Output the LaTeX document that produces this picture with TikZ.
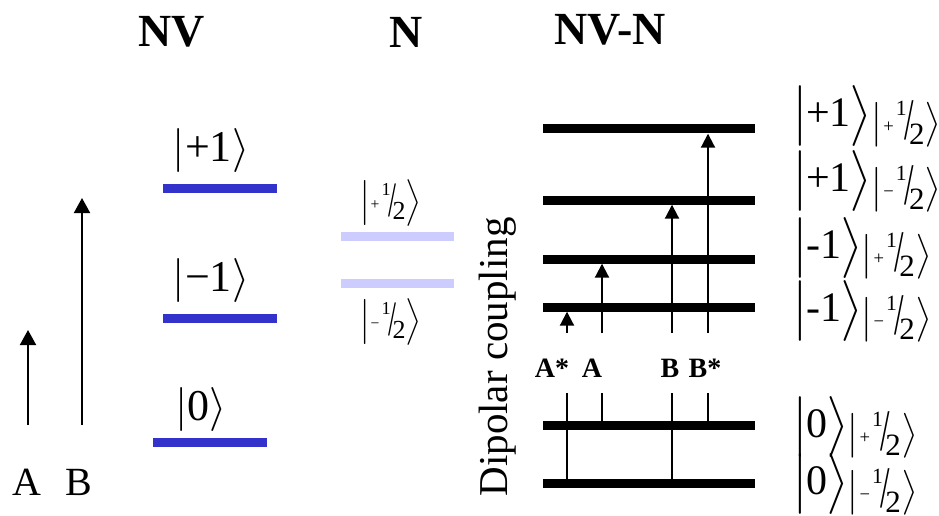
\documentclass[tikz,border=0pt]{standalone}
\usepackage{fontspec}
\usepackage{unicode-math}
\setmainfont{Liberation Serif}
\setmathfont{Latin Modern Math}
\usepackage{graphicx}
\usetikzlibrary{arrows.meta}
\definecolor{nvblue}{RGB}{51,51,204}
\definecolor{nlav}{RGB}{204,204,255}

% slanted one half and kets of a given height
\newcommand{\hf}{\raisebox{.55em}{\scalebox{.7}{1}}\kern-.08em\raisebox{-.25em}{\scalebox{1.1}[1.9]{/}}\kern-.15em\raisebox{-.4em}{2}}
\newcommand{\kt}[2]{$\left|\vcenter to #1{}\right.$\kern-1pt#2\kern-1pt$\left.\vcenter to #1{}\right\rangle$}
\newcommand{\hk}[2]{$\left|\vcenter to #1{}\right.$\kern1pt\scalebox{.6}{#2}\kern2pt\hf$\left.\vcenter to #1{}\right\rangle$}

\begin{document}
\begin{tikzpicture}[x=1pt, y=-1pt,
  lvl/.style={inner sep=0pt, minimum height=9pt},
  nvlvl/.style={lvl, fill=nvblue, minimum width=114pt},
  nlvl/.style={lvl, fill=nlav, minimum width=113pt},
  pairlvl/.style={lvl, fill=black, minimum width=212pt},
  ttl/.style={font=\fontsize{46}{50}\selectfont\bfseries},
  kt/.style={font=\fontsize{44}{48}\selectfont, inner sep=0pt},
  nkt/.style={font=\fontsize{26}{30}\selectfont, inner sep=0pt},
  pkt/.style={anchor=west, inner sep=0pt},
  trans/.style={font=\fontsize{28}{32}\selectfont\bfseries, inner sep=0pt},
  uparr/.style={line width=2pt, -{Triangle[length=14pt,width=14pt]}},
  bigarr/.style={line width=2pt, -{Triangle[length=15pt,width=16pt]}}]
\useasboundingbox (0,0) rectangle (939,516);

% titles
\node[ttl] (tnv) at (172,32) {NV};
\node[ttl] (tn) at (406,32) {N};
\node[ttl] (tnvn) at (610,30) {NV-N};

% NV levels
\node[nvlvl] (nvp) at (220,188) {};
\node[nvlvl] (nvm) at (220,318) {};
\node[nvlvl] (nvz) at (210,442) {};
\node[kt] (knvp) at (211,150) {\kt{46pt}{+1}};
\node[kt] (knvm) at (211,280) {\kt{46pt}{−1}};
\node[kt] (knvz) at (201,409) {\kt{46pt}{0}};

% N levels
\node[nlvl] (np) at (397,236) {};
\node[nlvl] (nm) at (397,283) {};
\node[nkt] (knp) at (392,203) {\hk{44pt}{+}};
\node[nkt] (knm) at (392,322) {\hk{44pt}{−}};

% transitions A and B
\coordinate (a0) at (28,425);
\coordinate (a1) at (28,330);
\coordinate (b0) at (82,425);
\coordinate (b1) at (82,198);
\draw[bigarr] (a0) -- (a1);
\draw[bigarr] (b0) -- (b1);
\node[font=\fontsize{40}{44}\selectfont] (la) at (27,482) {A};
\node[font=\fontsize{40}{44}\selectfont] (lb) at (79,482) {B};

% NV-N levels
\node[pairlvl] (pp) at (649,129) {};
\node[pairlvl] (pm) at (649,200) {};
\node[pairlvl] (mp) at (649,259) {};
\node[pairlvl] (mm) at (649,307) {};
\node[pairlvl] (zp) at (649,425) {};
\node[pairlvl] (zm) at (649,483) {};

\node[rotate=90, font=\fontsize{41}{44}\selectfont] (dip) at (498,357) {Dipolar coupling};

% NV-N labels
\foreach \n/\y/\s/\h in {kpp/116/+1/+, kpm/181/+1/−, kmp/248/-1/+, kmm/311/-1/−, kzp/427/0/+, kzm/484/0/−}{
  \node[pkt] (\n) at (794,\y) {{\fontsize{42}{46}\selectfont\kt{56pt}{\s}}\kern-1pt\raisebox{-6pt}{\fontsize{31}{34}\selectfont\hk{42pt}{\h}}};
}

% hyperfine transitions
\coordinate (as) at (567,333);
\coordinate (aa) at (602,333);
\coordinate (bb) at (672,333);
\coordinate (bs) at (708,333);
\draw[uparr] (as) -- (as |- mm.south);
\draw[uparr] (aa) -- (aa |- mp.south);
\draw[uparr] (bb) -- (bb |- pm.south);
\draw[uparr] (bs) -- (bs |- pp.south);
\foreach \c/\t in {as/zm, aa/zp, bb/zm, bs/zp}{
  \draw[line width=2pt] (\c |- 0,393) -- (\c |- \t);
}
\node[trans] (tas) at (552,368) {A*};
\node[trans] (taa) at (592,368) {A};
\node[trans] (tbb) at (670,368) {B};
\node[trans] (tbs) at (705,368) {B*};

\end{tikzpicture}
\end{document}
